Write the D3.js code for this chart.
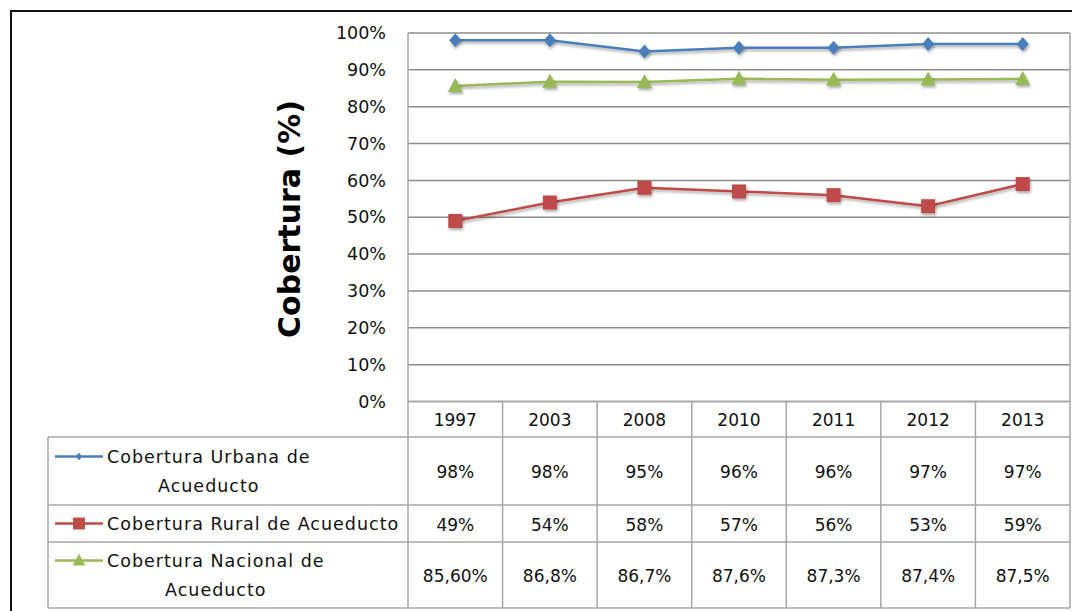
<!DOCTYPE html>
<html>
<head>
<meta charset="utf-8">
<script src="https://cdn.jsdelivr.net/npm/d3@7"></script>
<style>
  body { margin: 0; background: #fff; }
  svg { display: block; font-family: "DejaVu Sans", Verdana, sans-serif; }
</style>
</head>
<body>
<svg id="chart" width="1072" height="611"></svg>
<script>
const years = ['1997', '2003', '2008', '2010', '2011', '2012', '2013'];
const urbana = [98, 98, 95, 96, 96, 97, 97];
const rural = [49, 54, 58, 57, 56, 53, 59];
const nacional = [85.6, 86.8, 86.7, 87.6, 87.3, 87.4, 87.5];
const urbanaLabels = ['98%', '98%', '95%', '96%', '96%', '97%', '97%'];
const ruralLabels = ['49%', '54%', '58%', '57%', '56%', '53%', '59%'];
const nacionalLabels = ['85,60%', '86,8%', '86,7%', '87,6%', '87,3%', '87,4%', '87,5%'];
const yTicks = [0, 10, 20, 30, 40, 50, 60, 70, 80, 90, 100];

const series = [
  { name: ['Cobertura Urbana de', 'Acueducto'], values: urbana, labels: urbanaLabels, color: '#4a7ebb', symbol: 'diamond' },
  { name: ['Cobertura Rural de Acueducto'], values: rural, labels: ruralLabels, color: '#be4b48', symbol: 'square' },
  { name: ['Cobertura Nacional de', 'Acueducto'], values: nacional, labels: nacionalLabels, color: '#98b954', symbol: 'triangle' }
];

const svg = d3.select('#chart');
const plotLeft = 408, plotRight = 1070, plotTop = 33, plotBottom = 401.5;
const gridColor = '#8c8c8c', tableColor = '#a6a6a6';

// drop shadow for the markers
const defs = svg.append('defs');
defs.append('filter').attr('id', 'shadow')
  .attr('x', '-50%').attr('y', '-50%').attr('width', '200%').attr('height', '200%')
  .append('feDropShadow')
  .attr('dx', 1).attr('dy', 2).attr('stdDeviation', 1.5)
  .attr('flood-color', '#000').attr('flood-opacity', 0.35);

const x = d3.scaleBand().domain(years).range([plotLeft, plotRight]);
const y = d3.scaleLinear().domain([0, 100]).range([plotBottom, plotTop]);
const cx = d => x(d) + x.bandwidth() / 2;

// outer frame (clipped on the right and bottom)
svg.append('rect')
  .attr('x', 11).attr('y', 11).attr('width', 1200).attr('height', 800)
  .attr('fill', 'none').attr('stroke', '#111').attr('stroke-width', 2);

// gridlines
svg.append('g').selectAll('line').data(yTicks).join('line')
  .attr('x1', plotLeft).attr('x2', plotRight)
  .attr('y1', d => y(d)).attr('y2', d => y(d))
  .attr('stroke', gridColor).attr('stroke-width', 1.5);

// y axis labels
const yAxis = svg.append('g')
  .attr('transform', `translate(${plotLeft},0)`)
  .call(d3.axisLeft(y).tickValues(yTicks).tickSize(0).tickPadding(22).tickFormat(d => d + '%'));
yAxis.select('.domain').remove();
yAxis.selectAll('text')
  .attr('font-family', '"DejaVu Sans", sans-serif')
  .attr('font-size', 17.5).attr('fill', '#111');

// axis title
svg.append('text')
  .attr('transform', 'translate(300,219) rotate(-90)')
  .attr('text-anchor', 'middle')
  .attr('font-weight', 'bold').attr('font-size', 30).attr('fill', '#000')
  .text('Cobertura (%)');

// data table
const rowTops = [plotBottom, 437, 505, 542, 608];
const legendLeft = 48;
const table = svg.append('g').attr('stroke', tableColor).attr('stroke-width', 1.5);
// horizontal rules
table.append('line').attr('x1', plotLeft).attr('x2', plotRight).attr('y1', rowTops[0]).attr('y2', rowTops[0]);
rowTops.slice(1).forEach(t => {
  table.append('line').attr('x1', legendLeft).attr('x2', plotRight).attr('y1', t).attr('y2', t);
});
// vertical rules
table.selectAll('line.col').data(years.concat(['end'])).join('line')
  .attr('class', 'col')
  .attr('x1', d => d === 'end' ? plotRight : x(d))
  .attr('x2', d => d === 'end' ? plotRight : x(d))
  .attr('y1', d => d === '1997' ? plotTop : rowTops[0])
  .attr('y2', rowTops[4]);
table.append('line').attr('x1', legendLeft).attr('x2', legendLeft).attr('y1', rowTops[1]).attr('y2', rowTops[4]);
table.append('line').attr('x1', plotRight).attr('x2', plotRight).attr('y1', plotTop).attr('y2', plotBottom);

// year header
svg.append('g').selectAll('text').data(years).join('text')
  .attr('x', d => cx(d)).attr('y', (rowTops[0] + rowTops[1]) / 2 + 1)
  .attr('dy', '0.36em').attr('text-anchor', 'middle')
  .attr('font-size', 17).attr('fill', '#111')
  .text(d => d);

function marker(g, symbol, color, px, py, scale) {
  const s = scale || 1;
  if (symbol === 'diamond') {
    g.append('path').attr('d', `M${px},${py - 7 * s}L${px + 6 * s},${py}L${px},${py + 7 * s}L${px - 6 * s},${py}Z`)
      .attr('fill', color);
  } else if (symbol === 'square') {
    g.append('rect').attr('x', px - 7 * s).attr('y', py - 7 * s).attr('width', 14 * s).attr('height', 14 * s)
      .attr('fill', color);
  } else {
    g.append('path').attr('d', `M${px},${py - 8 * s}L${px + 7.5 * s},${py + 6 * s}L${px - 7.5 * s},${py + 6 * s}Z`)
      .attr('fill', color);
  }
}

// lines and markers
const line = d3.line().x((d, i) => cx(years[i])).y(d => y(d));
series.forEach(s => {
  svg.append('path').datum(s.values)
    .attr('d', line).attr('fill', 'none')
    .attr('stroke', s.color).attr('stroke-width', 2.5)
    .attr('filter', 'url(#shadow)');
  const mg = svg.append('g').attr('filter', 'url(#shadow)');
  s.values.forEach((v, i) => marker(mg, s.symbol, s.color, cx(years[i]), y(v)));
});

// table rows: legend keys, names and values
series.forEach((s, r) => {
  const top = rowTops[r + 1], bottom = rowTops[r + 2];
  const mid = (top + bottom) / 2;
  const lineGap = 29;
  const firstY = mid - (s.name.length - 1) * lineGap / 2;

  // key
  svg.append('line').attr('x1', 55).attr('x2', 103).attr('y1', firstY).attr('y2', firstY)
    .attr('stroke', s.color).attr('stroke-width', 2.5);
  marker(svg.append('g'), s.symbol, s.color, 79, firstY, s.symbol === 'diamond' ? 0.55 : 0.85);

  // name, lines centred on the first one
  const first = svg.append('text')
    .attr('x', 107).attr('y', firstY).attr('dy', '0.36em')
    .attr('font-size', 17.5).attr('letter-spacing', 1).attr('fill', '#111')
    .text(s.name[0]);
  const w = first.node().getComputedTextLength();
  s.name.slice(1).forEach((t, k) => {
    svg.append('text')
      .attr('x', 107 + w / 2).attr('y', firstY + (k + 1) * lineGap).attr('dy', '0.36em')
      .attr('text-anchor', 'middle')
      .attr('font-size', 17.5).attr('letter-spacing', 1).attr('fill', '#111')
      .text(t);
  });

  // values
  svg.append('g').selectAll('text').data(s.labels).join('text')
    .attr('x', (d, i) => cx(years[i])).attr('y', mid + 1)
    .attr('dy', '0.36em').attr('text-anchor', 'middle')
    .attr('font-size', 17).attr('fill', '#111')
    .text(d => d);
});
</script>
</body>
</html>
